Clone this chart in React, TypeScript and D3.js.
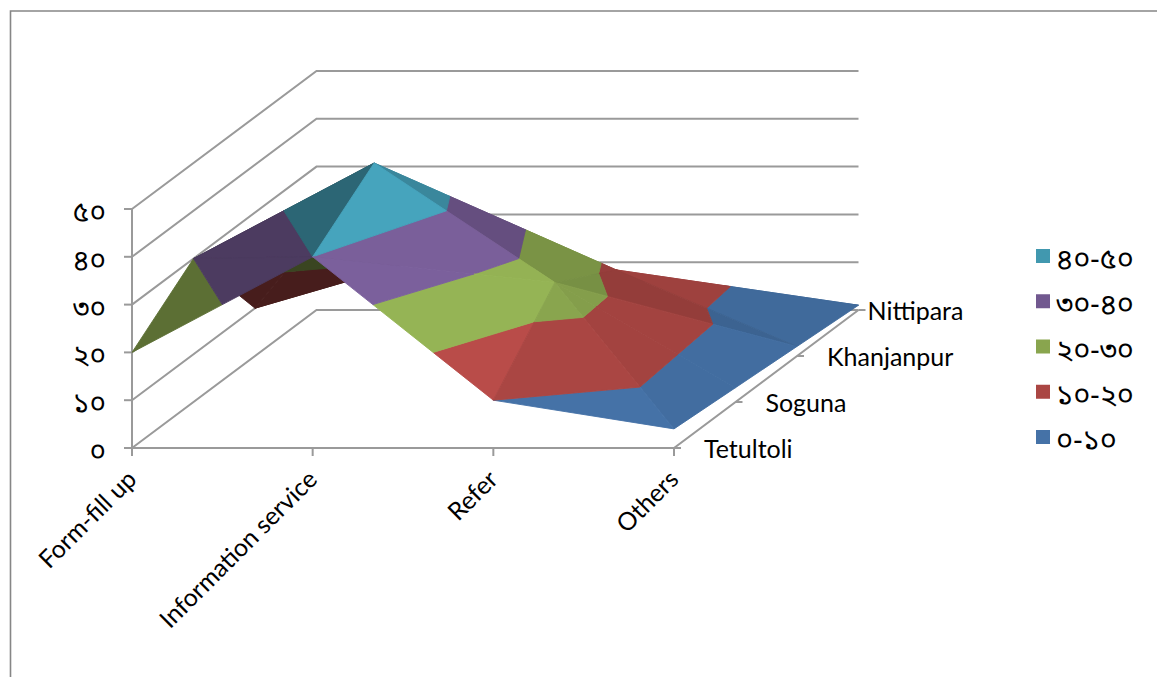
import React from 'react';
import * as d3 from 'd3';

const categories = ["Form-fill up", "Information service", "Refer", "Others"];
const seriesNames = ["Tetultoli", "Soguna", "Khanjanpur", "Nittipara"];
const valueTicks = [0, 10, 20, 30, 40, 50];
const valueTickLabels = ["০", "১০", "২০", "৩০", "৪০", "৫০"];

// values, one list per series (back row is mostly hidden, estimated)
const tetultoli = [20, 40, 10, 4];
const soguna = [30, 50, 25, 3];
const khanjanpur = [10, 21, 18, 2];
const nittipara = [10, 10, 5, 1];
const rows = [tetultoli, soguna, khanjanpur, nittipara];

const bandLabels = ["০-১০", "১০-২০", "২০-৩০", "৩০-৪০", "৪০-৫০"];
const bandColors = ["#4572A7", "#AA4643", "#89A54E", "#71588F", "#4198AF"];

// how each grid cell is folded: true = (i,j)-(i+1,j+1), false = (i,j+1)-(i+1,j)
const folds = [
  [false, true, false],
  [false, true, true],
  [false, false, true],
];
// brightness of the two triangles of each cell, in paint order
const shades = [
  [[0.67, 0.67], [1.08, 1.09], [0.96, 1.0]],
  [[0.42, 0.42], [0.9, 0.89], [0.87, 0.96]],
  [[0.42, 0.42], [0.6, 0.6], [0.9, 0.93]],
];

const width = 1157;
const height = 677;
const gridColor = "#9A9A9A";
const latinFont = "Lato, 'Open Sans', sans-serif";
const bengaliFont = "'Noto Sans Bengali', 'Noto Serif Bengali', Lohit, 'Noto Sans', sans-serif";

const xScale = d3.scaleLinear().domain([0, 3]).range([132, 674]);
const yScale = d3.scaleLinear().domain([0, 50]).range([448, 209]);
const depthX = d3.scaleLinear().domain([0, 3]).range([0, 184.5]);
const depthY = d3.scaleLinear().domain([0, 3]).range([0, -138]);
const legendY = d3.scaleLinear().domain([4, 0]).range([249, 430]);

type P = { i: number, j: number, v: number };
const project = (p: P): [number, number] => [xScale(p.i) + depthX(p.j), yScale(p.v) + depthY(p.j)];
const pt = (i: number, j: number): P => ({ i, j, v: rows[j][i] });
const pathOf = d3.line();

// cut one triangle down to the part between two values
const clip = (poly: P[], level: number, keepAbove: boolean): P[] => {
  const out: P[] = [];
  poly.forEach((a, k) => {
    const b = poly[(k + 1) % poly.length];
    const aIn = keepAbove ? a.v >= level : a.v <= level;
    const bIn = keepAbove ? b.v >= level : b.v <= level;
    if (aIn) out.push(a);
    if (aIn !== bIn) {
      const t = (level - a.v) / (b.v - a.v);
      out.push({ i: a.i + (b.i - a.i) * t, j: a.j + (b.j - a.j) * t, v: level });
    }
  });
  return out;
};

type Facet = { d: string, fill: string };
const facets: Facet[] = [];
const addTriangle = (tri: P[], shade: number) => {
  bandColors.forEach((color, b) => {
    const part = clip(clip(tri, valueTicks[b], true), valueTicks[b + 1], false);
    if (part.length < 3) return;
    const c = d3.rgb(color);
    const fill = d3.rgb(Math.min(255, c.r * shade), Math.min(255, c.g * shade), Math.min(255, c.b * shade)).formatHex();
    facets.push({ d: pathOf(part.map(project)) + "Z", fill });
  });
};
// painted from the back row forwards
for (let j = 2; j >= 0; j--) {
  for (let i = 0; i <= 2; i++) {
    const [first, second] = shades[j][i];
    if (folds[j][i]) {
      addTriangle([pt(i, j), pt(i + 1, j + 1), pt(i, j + 1)], first);
      addTriangle([pt(i, j), pt(i + 1, j), pt(i + 1, j + 1)], second);
    } else {
      addTriangle([pt(i + 1, j), pt(i + 1, j + 1), pt(i, j + 1)], first);
      addTriangle([pt(i, j), pt(i + 1, j), pt(i, j + 1)], second);
    }
  }
}

const Grid = () => (
  <g stroke={gridColor} strokeWidth={2} fill="none">
    {valueTicks.map(v => {
      const a = project({ i: 0, j: 0, v });
      const b = project({ i: 0, j: 3, v });
      const c = project({ i: 3, j: 3, v });
      return <path key={v} d={pathOf([a, b, c]) as string}/>
    })}
    <line x1={xScale(0)} x2={xScale(0)} y1={yScale(50)} y2={yScale(0) + 8}/>
    <path d={pathOf([project({ i: 0, j: 0, v: 0 }), project({ i: 3, j: 0, v: 0 }), project({ i: 3, j: 3, v: 0 })]) as string}/>
    {valueTicks.map(v => <line key={v} x1={xScale(0) - 8} x2={xScale(0)} y1={yScale(v)} y2={yScale(v)}/>)}
    {categories.map((c, i) => <line key={c} x1={xScale(i)} x2={xScale(i)} y1={yScale(0)} y2={yScale(0) + 8}/>)}
    {seriesNames.map((s, j) => {
      const [x, y] = project({ i: 3, j, v: 0 });
      return <line key={s} x1={x} x2={x + 7} y1={y} y2={y}/>
    })}
  </g>
)

const App = () => (
  <svg width={width} height={height} style={{ position: "absolute", left: 0, top: 0, background: "white" }}>
    <path d="M10.5,677V11H1157" fill="none" stroke="#868686" strokeWidth={1.6}/>
    <Grid/>
    <g>
      {facets.map((f, k) => <path key={k} d={f.d} fill={f.fill} stroke={f.fill} strokeWidth={0.9} strokeLinejoin="round"/>)}
    </g>
    {valueTicks.map((v, k) => (
      <text key={v} x={106} y={yScale(v) + 13} textAnchor="end" fontSize={28} fontFamily={bengaliFont} fill="black">{valueTickLabels[k]}</text>
    ))}
    {categories.map((c, i) => (
      <text key={c} transform={`translate(${xScale(i) + 6}, ${yScale(0) + 33}) rotate(-45)`} textAnchor="end" fontSize={24.8} fontFamily={latinFont} fill="black">{c}</text>
    ))}
    {seriesNames.map((s, j) => {
      const [x, y] = project({ i: 3, j, v: 0 });
      return <text key={s} x={x + (j === 3 ? 9 : 30)} y={y + 10} fontSize={25} fontFamily={latinFont} fill="black">{s}</text>
    })}
    {bandLabels.map((l, k) => (
      <g key={l}>
        <rect x={1036} y={legendY(k)} width={14} height={14} fill={bandColors[k]}/>
        <text x={1056} y={legendY(k) + 20} fontSize={29} fontFamily={bengaliFont} fill="black">{l}</text>
      </g>
    ))}
  </svg>
)

export default App;
